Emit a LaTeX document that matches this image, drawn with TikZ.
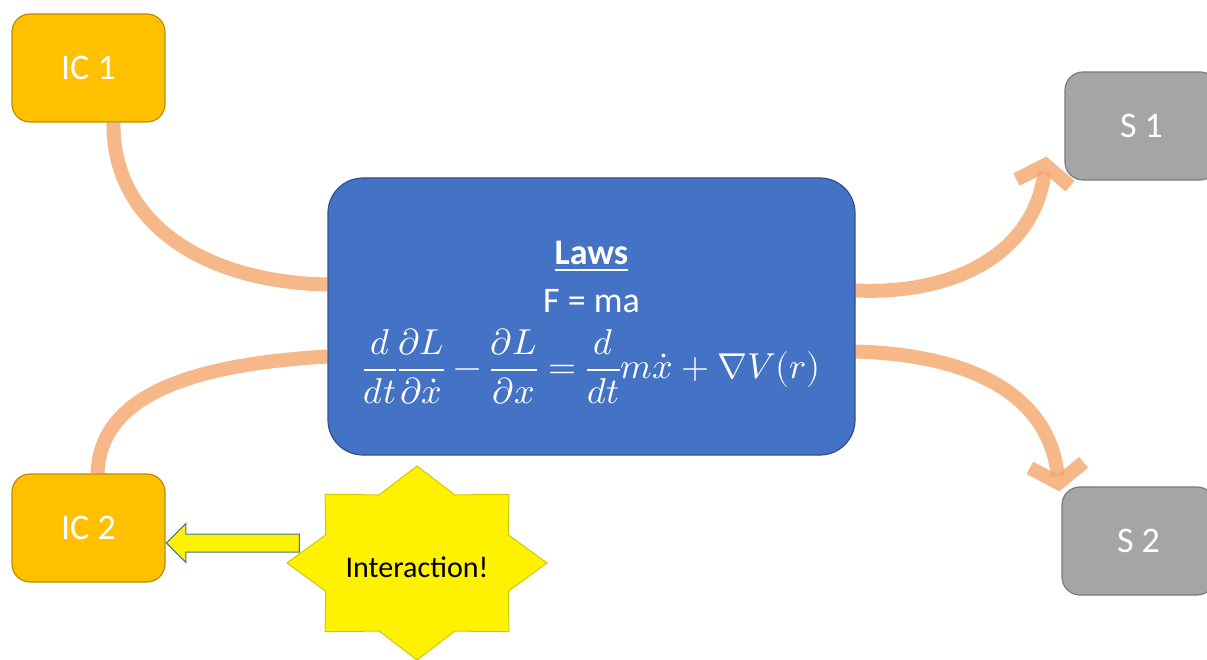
\documentclass[tikz,border=0pt]{standalone}
\usepackage{amsmath}
\usepackage{fontspec}
\usepackage{unicode-math}
\setmainfont{Carlito}
\setmathfont{Latin Modern Math}
\usepackage{xcolor}
\usepackage{tikz}
\usetikzlibrary{shapes.arrows, arrows.meta, positioning, calc, backgrounds}

\definecolor{icfill}{HTML}{FFC000}
\definecolor{icline}{HTML}{BC8C00}
\definecolor{sfill}{HTML}{A5A5A5}
\definecolor{sline}{HTML}{7A7A7A}
\definecolor{lawfill}{HTML}{4472C4}
\definecolor{lawline}{HTML}{2F528F}
\definecolor{flowc}{HTML}{F4A66C}
\definecolor{burstline}{HTML}{D2C800}
\definecolor{pushline}{HTML}{41719C}

\begin{document}
\begin{tikzpicture}[
    x=1pt, y=-1pt,
    icbox/.style={draw=icline, fill=icfill, rectangle, rounded corners=18pt, line width=1.2pt,
      minimum width=153pt, minimum height=108pt, text=white, font=\fontsize{36}{40}\selectfont},
    sbox/.style={draw=sline, fill=sfill, rectangle, rounded corners=18pt, line width=1.2pt,
      minimum width=153pt, minimum height=108pt, text=white, font=\fontsize{36}{40}\selectfont},
    lawbox/.style={draw=lawline, fill=lawfill, rectangle, rounded corners=35pt, line width=1.2pt,
      minimum width=527pt, minimum height=277pt, align=center, text=white,
      font=\fontsize{36}{48}\selectfont},
    burst/.style={draw=burstline, fill=yellow, line width=1pt},
    push/.style={single arrow, shape border rotate=180, draw=pushline, fill=yellow, line width=1pt,
      inner xsep=0pt, inner ysep=8.5pt, minimum height=133pt, single arrow head extend=10.5pt},
    flow/.style={line width=14pt, draw=flowc, draw opacity=0.8},
    flowarrow/.style={flow, -{Straight Barb[length=18pt, width=54pt, line width=14pt]}}
]
\useasboundingbox (0,0) rectangle (1207,660);

\node (ic1) [icbox] at (88.5,68) {IC 1};
\node (ic2) [icbox] at (88.5,528) {IC 2};
\node (s1) [sbox] at (1141.5,126) {S 1};
\node (s2) [sbox] at (1138.5,541) {S 2};
\node (laws) [lawbox] at (591.5,316.5) {\rule{0pt}{36pt}\underline{\textbf{Laws}}\\F = ma\\[15pt]
  $\displaystyle \frac{d}{dt}\frac{\partial L}{\partial \dot{x}} - \frac{\partial L}{\partial x}
  = \frac{d}{dt} m\dot{x} + \nabla V(r)$};
\node (push) [push, anchor=tip] at ([yshift=-15pt]ic2.east) {};

\begin{scope}[on background layer]
\draw[burst] plot[variable=\i, samples at={0,...,15}]
  ({417+(1-0.24*mod(\i,2))*130*cos(22.5*\i)}, {563+(1-0.24*mod(\i,2))*97*sin(22.5*\i)}) -- cycle;
\draw[flow] ([xshift=25pt]ic1.south) .. controls (112,220) and (200,282) .. ([yshift=32pt]laws.west);
\draw[flow] ([xshift=9pt]ic2.north) .. controls (100,400) and (180,365) .. ([yshift=-40pt]laws.west);
\draw[flowarrow] ([yshift=26pt]laws.east) .. controls (960,295) and (1035,250) .. ([xshift=-18pt,yshift=24pt]s1.south west);
\draw[flowarrow] ([yshift=-35pt]laws.east) .. controls (980,355) and (1050,400) .. ([xshift=-2pt,yshift=-5pt]s2.north west);
\end{scope}

\node (bang) [font=\fontsize{30}{36}\selectfont] at (417,567) {Interaction!};
\end{tikzpicture}
\end{document}
